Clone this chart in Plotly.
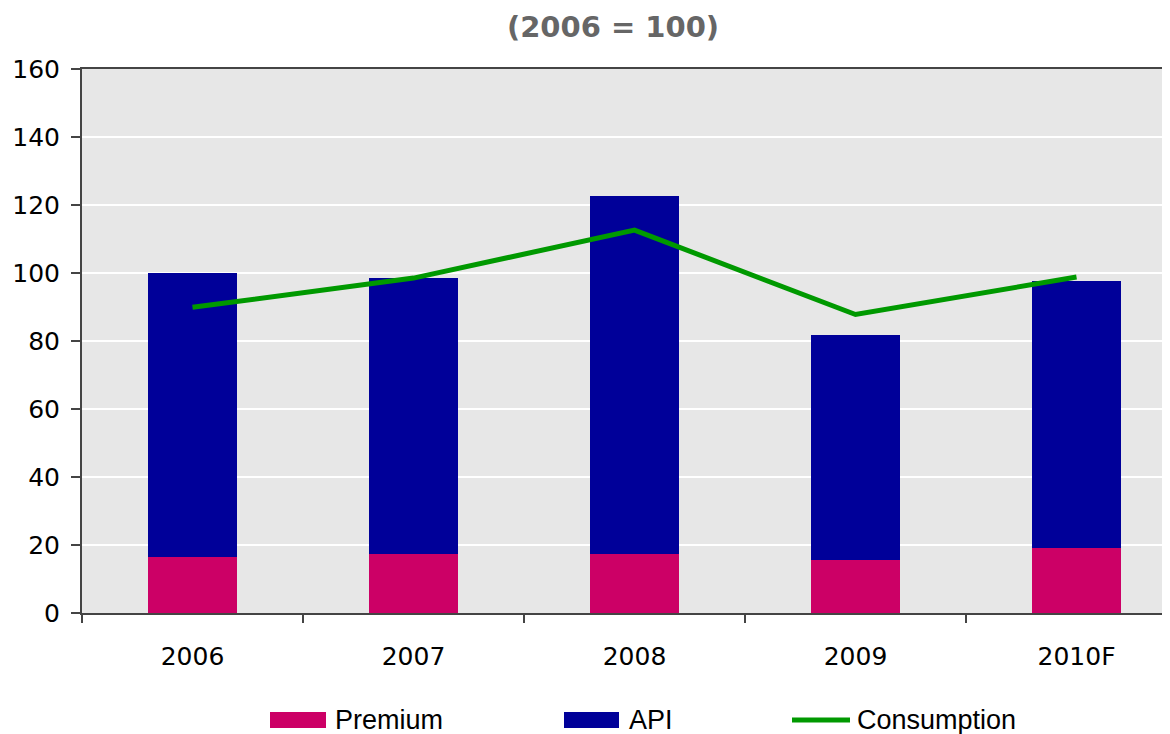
import plotly.graph_objects as go

years = ["2006", "2007", "2008", "2009", "2010F"]
premium = [16.6, 17.3, 17.3, 15.7, 19.2]
api = [83.4, 81.3, 105.4, 66.0, 78.4]
consumption = [89.9, 98.5, 112.6, 87.8, 98.8]

PREMIUM_COLOR = "#CC0066"
API_COLOR = "#000099"
CONS_COLOR = "#009900"

# the page body has an 8px margin, so the figure is drawn from (8, 8)
OFF = 8
W, H = 1170 - OFF, 734 - OFF
L, R, T, B = 82 - OFF, 0, 69 - OFF, 734 - 613


def px_x(px):
    # page pixel column -> paper x
    return (px - OFF - L) / (W - L - R)


def px_y(py):
    # page pixel row -> paper y
    return (H - B - (py - OFF)) / (H - T - B)


fig = go.Figure()
fig.add_trace(go.Bar(x=years, y=premium, name="Premium",
                     marker=dict(color=PREMIUM_COLOR, line_width=0), width=0.4))
fig.add_trace(go.Bar(x=years, y=api, name="API",
                     marker=dict(color=API_COLOR, line_width=0), width=0.4))
fig.add_trace(go.Scatter(x=years, y=consumption, name="Consumption", mode="lines",
                         line=dict(color=CONS_COLOR, width=5)))

# hand-drawn legend below the chart (wide swatches like the original)
legend_items = [
    ("Premium", "bar", PREMIUM_COLOR, 270, 326, 333),
    ("API", "bar", API_COLOR, 564, 619, 627),
    ("Consumption", "line", CONS_COLOR, 792, 850, 855),
]
for label, kind, color, x0, x1, xt in legend_items:
    if kind == "bar":
        fig.add_shape(type="rect", xref="paper", yref="paper",
                      x0=px_x(x0), x1=px_x(x1), y0=px_y(728), y1=px_y(712),
                      fillcolor=color, line_width=0)
    else:
        fig.add_shape(type="line", xref="paper", yref="paper",
                      x0=px_x(x0), x1=px_x(x1), y0=px_y(720), y1=px_y(720),
                      line=dict(color=color, width=5))
    fig.add_annotation(text=label, xref="paper", yref="paper",
                       x=px_x(xt), y=px_y(720), xanchor="left", yanchor="middle",
                       showarrow=False,
                       font=dict(family="Liberation Sans, Arial, sans-serif",
                                 size=27, color="black"))

fig.update_layout(
    width=W, height=H,
    margin=dict(l=L, r=R, t=T, b=B),
    barmode="stack",
    showlegend=False,
    paper_bgcolor="white",
    plot_bgcolor="#E7E7E7",
    title=dict(text="<b>(2006 = 100)</b>", xref="container", yref="container",
               x=(613 - OFF) / W, xanchor="center", y=1 - (27 - OFF) / H,
               yanchor="middle",
               font=dict(family="DejaVu Sans, Verdana, sans-serif", size=29,
                         color="#666666")),
    font=dict(family="DejaVu Sans, Verdana, sans-serif", size=25, color="black"),
)

fig.update_xaxes(
    type="category", range=[-0.5, 4.423],
    showline=True, linecolor="#444444", linewidth=2, mirror=True,
    ticks="outside", tickson="boundaries", ticklen=8, tickwidth=1.5,
    tickcolor="#444444", ticklabelstandoff=20,
    showgrid=False,
)
fig.update_yaxes(
    range=[0, 160], dtick=20,
    showline=True, linecolor="#444444", linewidth=2,
    ticks="outside", ticklen=9, tickwidth=1.5, tickcolor="#444444",
    ticklabelstandoff=6,
    showgrid=True, gridcolor="white", gridwidth=1.5,
    zeroline=False,
)

fig.write_html("out.html")
